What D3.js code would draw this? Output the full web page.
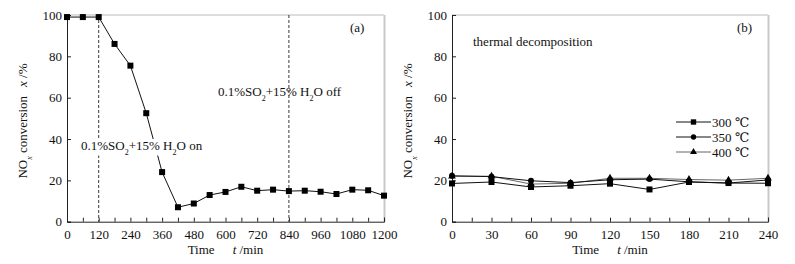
<!DOCTYPE html>
<html>
<head>
<meta charset="utf-8">
<script src="https://cdn.jsdelivr.net/npm/d3@7"></script>
<style>
  body { margin: 0; background: #fff; }
  text { font-family: "Liberation Serif", "DejaVu Serif", serif; fill: #111; }
</style>
</head>
<body>
<script>
// panel (a): SO2 + H2O on/off
const timeA = [0,60,120,180,240,300,360,420,480,540,600,660,720,780,840,900,960,1020,1080,1140,1200];
const convA = [99,99,99,86,75.5,52.5,24,7,8.8,12.9,14.4,16.9,15,15.5,14.8,15,14.5,13.4,15.5,15.2,12.6];
const ticksA = [0,120,240,360,480,600,720,840,960,1080,1200];

// panel (b): thermal decomposition
const timeB = [0,30,60,90,120,150,180,210,240];
const conv300 = [18.5,19.2,16.8,17.4,18.4,15.6,19.2,18.7,18.6];
const conv350 = [22.2,21.8,19.8,18.9,20.3,20.6,19.3,18.7,20.2];
const conv400 = [22,22,18.2,18.6,21,21,20.4,20.1,21];
const ticksB = [0,30,60,90,120,150,180,210,240];
const yTicks = [0,20,40,60,80,100];

const W = 795, H = 264;
const FS = "13px";
const svg = d3.select("body").append("svg").attr("width",W).attr("height",H);

const y = d3.scaleLinear().domain([0,100]).range([221.7,15]);

function frame(x, x0, x1, minorStep, majorTicks){
    const g = svg.append("g");
    // grey top/right border
    g.append("line").attr("x1",x0).attr("x2",x1).attr("y1",15).attr("y2",15)
        .attr("stroke","#bbb").attr("stroke-width",1);
    g.append("line").attr("x1",x1+0.5).attr("x2",x1+0.5).attr("y1",15).attr("y2",221.7)
        .attr("stroke","#c8c8c8").attr("stroke-width",2);
    // x axis
    const xa = g.append("g").attr("transform",`translate(0,${y(0)})`)
        .call(d3.axisBottom(x).tickValues(d3.range(x.domain()[0], x.domain()[1]+1, minorStep))
            .tickSize(-4).tickPadding(8).tickFormat(d => majorTicks.includes(d) ? d : ""));
    // y axis
    const ya = g.append("g").attr("transform",`translate(${x0},0)`)
        .call(d3.axisLeft(y).tickValues(yTicks).tickSize(-4).tickPadding(5));
    [xa,ya].forEach(a => {
        a.select(".domain").attr("stroke","#222");
        a.selectAll(".tick line").attr("stroke","#222");
        a.selectAll("text").style("font-size",FS).attr("font-family","Liberation Serif").attr("fill","#111");
    });
    // axis titles
    const xt = g.append("text").attr("x",(x0+x1)/2).attr("y",254)
        .attr("text-anchor","middle").style("font-size",FS);
    xt.append("tspan").text("Time");
    xt.append("tspan").attr("dx",18).style("font-style","italic").text("t");
    xt.append("tspan").text(" /min");
    return g;
}

function yTitle(cx){
    const t = svg.append("text").attr("transform",`translate(${cx},121) rotate(-90)`)
        .attr("text-anchor","middle").style("font-size",FS);
    t.append("tspan").text("NO");
    t.append("tspan").attr("baseline-shift","sub").style("font-size","8px").style("font-style","italic").text("x");
    t.append("tspan").text(" conversion");
    t.append("tspan").attr("dx",9).style("font-style","italic").text("x");
    t.append("tspan").text(" /%");
}

function so2Label(g, x0, yb, suffix){
    const t = g.append("text").attr("x",x0).attr("y",yb).style("font-size",FS);
    t.append("tspan").text("0.1%SO");
    t.append("tspan").attr("baseline-shift","sub").style("font-size","8px").text("2");
    t.append("tspan").text("+15% H");
    t.append("tspan").attr("baseline-shift","sub").style("font-size","8px").text("2");
    t.append("tspan").text("O " + suffix);
    return t;
}

// ---------- panel (a)
const xA = d3.scaleLinear().domain([0,1200]).range([67,384]);
const gA = frame(xA, 67, 384, 60, ticksA);
yTitle(27);

[120,840].forEach(v => {
    gA.append("line").attr("x1",xA(v)).attr("x2",xA(v)).attr("y1",y(100)).attr("y2",y(0))
        .attr("stroke","#222").attr("stroke-dasharray","3,2").attr("stroke-width",0.9);
});

const lineA = d3.line().x((d,i) => xA(timeA[i])).y(d => y(d));
gA.append("path").datum(convA).attr("d",lineA).attr("fill","none").attr("stroke","#111").attr("stroke-width",1);
gA.selectAll(".sq").data(convA).enter().append("rect")
    .attr("x",(d,i) => xA(timeA[i]) - 3).attr("y",d => y(d) - 3)
    .attr("width",6).attr("height",6).attr("fill","#000");

// "on" label with white knock-out behind it
const onLbl = so2Label(gA, 81, 150, "on");
const bb = onLbl.node().getBBox();
gA.insert("rect", () => onLbl.node()).attr("x",bb.x-1).attr("y",bb.y+1).attr("width",bb.width+2).attr("height",bb.height-2)
    .attr("fill","#fff");
so2Label(gA, 218, 96, "off");
gA.append("text").attr("x",350).attr("y",32).style("font-size",FS).text("(a)");

// ---------- panel (b)
const xB = d3.scaleLinear().domain([0,240]).range([452,768]);
const gB = frame(xB, 452, 768, 15, ticksB);
yTitle(412);

const seriesB = [
    {name:"300 ℃", vals:conv300, color:"#111", shape:"square"},
    {name:"350 ℃", vals:conv350, color:"#111", shape:"circle"},
    {name:"400 ℃", vals:conv400, color:"#666", shape:"triangle"}
];
const symType = {square:d3.symbolSquare, circle:d3.symbolCircle, triangle:d3.symbolTriangle};
const symSize = {square:36, circle:28, triangle:26};
const lineB = d3.line().x((d,i) => xB(timeB[i])).y(d => y(d));

seriesB.slice().reverse().forEach(s => {
    gB.append("path").datum(s.vals).attr("d",lineB).attr("fill","none")
        .attr("stroke",s.color).attr("stroke-width",1);
});
seriesB.forEach(s => {
    gB.selectAll(null).data(s.vals).enter().append("path")
        .attr("transform",(d,i) => `translate(${xB(timeB[i])},${y(d)})`)
        .attr("d",d3.symbol().type(symType[s.shape]).size(symSize[s.shape]))
        .attr("fill","#000");
});

// legend
const leg = gB.append("g");
seriesB.forEach((s,i) => {
    const ly = 122 + i*15;
    leg.append("line").attr("x1",676).attr("x2",711).attr("y1",ly).attr("y2",ly)
        .attr("stroke",s.color).attr("stroke-width",1);
    leg.append("path").attr("transform",`translate(693.5,${ly})`)
        .attr("d",d3.symbol().type(symType[s.shape]).size(symSize[s.shape]*0.8)).attr("fill","#000");
    leg.append("text").attr("x",712).attr("y",ly+4.5).style("font-size",FS).text(s.name);
});

gB.append("text").attr("x",473).attr("y",46).style("font-size",FS).text("thermal decomposition");
gB.append("text").attr("x",737).attr("y",32).style("font-size",FS).text("(b)");
</script>
</body>
</html>
